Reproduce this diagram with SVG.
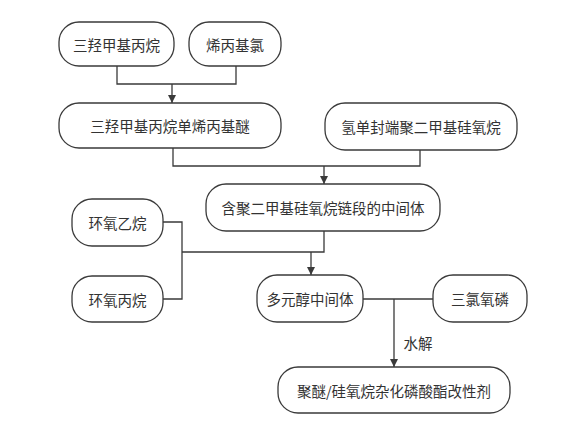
<svg xmlns="http://www.w3.org/2000/svg" width="578" height="435" viewBox="0 0 578 435">
<style>
.n{fill:#fff;stroke:#3a3a3a;stroke-width:1.3}
.t{font-family:"Noto Sans CJK SC","Noto Sans",sans-serif;font-size:14.5px;fill:#333;text-anchor:middle;dominant-baseline:central}
.c{fill:none;stroke:#3a3a3a;stroke-width:1.3}
</style>
<defs>
<marker id="a" viewBox="0 0 10 10" refX="10" refY="5" markerWidth="8" markerHeight="8" markerUnits="userSpaceOnUse" orient="auto">
<path d="M0,0 L10,5 L0,10 z" fill="#3a3a3a"/>
</marker>
</defs>
<rect width="578" height="435" fill="#fff"/>
<g id="connectors">
<path class="c" d="M117,66 V84 H236 V66"/>
<path class="c" d="M172,84 V103" marker-end="url(#a)"/>
<path class="c" d="M173,148 V166 H420 V150"/>
<path class="c" d="M324,166 V184" marker-end="url(#a)"/>
<path class="c" d="M163,222 H182 V299 H163"/>
<path class="c" d="M182,252 H324 V231"/>
<path class="c" d="M311,252 V275" marker-end="url(#a)"/>
<path class="c" d="M363,299 H433"/>
<path class="c" d="M394,299 V367" marker-end="url(#a)"/>
</g>
<g id="n1"><rect class="n" x="59" y="22" width="115" height="44" rx="20"/><text class="t" x="116.5" y="44">三羟甲基丙烷</text></g>
<g id="n2"><rect class="n" x="189" y="22" width="92" height="44" rx="20"/><text class="t" x="235" y="44">烯丙基氯</text></g>
<g id="n3"><rect class="n" x="59" y="103" width="222" height="45" rx="20"/><text class="t" x="170" y="125.5">三羟甲基丙烷单烯丙基醚</text></g>
<g id="n4"><rect class="n" x="325" y="103" width="192" height="47" rx="20"/><text class="t" x="421" y="126.5">氢单封端聚二甲基硅氧烷</text></g>
<g id="n5"><rect class="n" x="206" y="184" width="234" height="47" rx="20"/><text class="t" x="323" y="207.5">含聚二甲基硅氧烷链段的中间体</text></g>
<g id="n6"><rect class="n" x="72" y="199" width="91" height="47" rx="20"/><text class="t" x="117.5" y="222.5">环氧乙烷</text></g>
<g id="n7"><rect class="n" x="72" y="276" width="91" height="46" rx="20"/><text class="t" x="117.5" y="299">环氧丙烷</text></g>
<g id="n8"><rect class="n" x="257" y="275" width="106" height="47" rx="20"/><text class="t" x="310" y="298.5">多元醇中间体</text></g>
<g id="n9"><rect class="n" x="433" y="275" width="94" height="47" rx="20"/><text class="t" x="480" y="298.5">三氯氧磷</text></g>
<g id="n10"><rect class="n" x="278" y="367" width="232" height="46" rx="20"/><text class="t" x="394" y="390">聚醚/硅氧烷杂化磷酸酯改性剂</text></g>
<text class="t" x="418" y="342">水解</text>
</svg>
